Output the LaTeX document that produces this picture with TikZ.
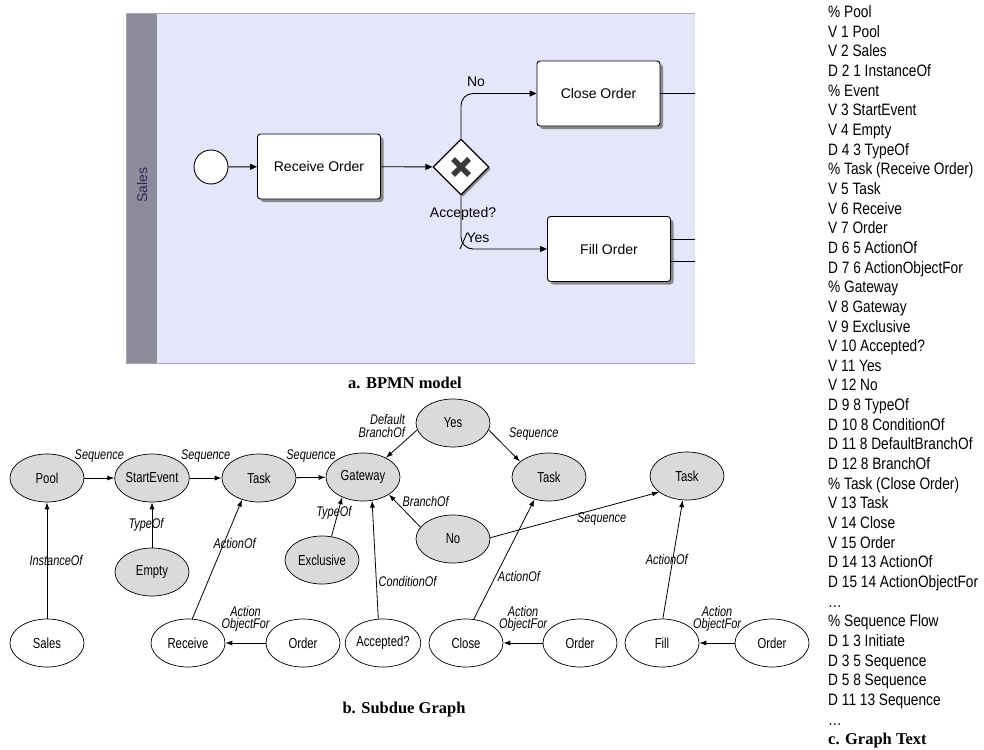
\documentclass[tikz,border=0pt]{standalone}
\usepackage{fontspec}
\setmainfont{Liberation Sans}
\newfontfamily\narrowfont{Liberation Sans}[FakeStretch=0.83]
\newfontfamily\graphfont{Liberation Sans}[FakeStretch=0.78]
\newfontfamily\capfont{Liberation Serif}
\usetikzlibrary{shapes.geometric,arrows.meta,shadows}
\definecolor{poolbg}{HTML}{E6E6FA}
\definecolor{lanegray}{HTML}{8C8C9C}
\definecolor{laneborder}{HTML}{A8A8B0}
\definecolor{lanetext}{HTML}{2E2A50}
\definecolor{nodegray}{HTML}{DADADA}
\definecolor{xmarkgray}{HTML}{3A3A3A}

\begin{document}
\begin{tikzpicture}[x=1pt, y=-1pt,
    flow/.style={-{Triangle[length=7pt,width=6pt]}, line width=0.9pt},
    taskbox/.style={draw, line width=0.9pt, fill=white, rounded corners=3pt,
      minimum width=123pt, minimum height=65pt, inner sep=0pt,
      font=\fontsize{14}{16}\selectfont,
      drop shadow={shadow xshift=3pt, shadow yshift=-3pt, fill=black!55, opacity=0.8}},
    gwbox/.style={diamond, draw, line width=1.3pt, fill=white, inner sep=0pt,
      minimum width=56pt, minimum height=56pt,
      drop shadow={shadow xshift=2pt, shadow yshift=-2pt, fill=black!55, opacity=0.8}},
    btext/.style={font=\fontsize{14}{16}\selectfont, inner sep=0pt},
    typenode/.style={ellipse, draw, line width=0.7pt, fill=nodegray,
      minimum width=74pt, minimum height=48pt, inner sep=0pt,
      font=\graphfont\fontsize{14.5}{16}\selectfont},
    valnode/.style={typenode, fill=white},
    garr/.style={-{Latex[length=7pt,width=5pt]}, line width=0.8pt},
    elab/.style={font=\graphfont\fontsize{14}{12.5}\selectfont\itshape,
      inner sep=0pt, align=center},
    gtext/.style={font=\narrowfont\fontsize{16.5}{19.6}\selectfont, inner sep=0pt},
    capt/.style={font=\capfont\bfseries\fontsize{16.5}{18}\selectfont, inner sep=0pt}]
  \useasboundingbox (0,0) rectangle (984,749);

  % a. BPMN model: pool and lane
  \fill[poolbg] (126,13) rectangle (695,363);
  \fill[lanegray] (126,13) rectangle (157,363);
  \draw[laneborder, line width=0.8pt] (695,13) -- (126,13) -- (126,363) -- (695,363);
  \node[btext, rotate=90, text=lanetext] (lane) at (142,185) {Sales};

  % flow objects
  \node[circle, draw, fill=white, line width=0.9pt, minimum size=34pt, inner sep=0pt] (bStart) at (211,167) {};
  \node[taskbox] (bReceive) at (319,166.5) {Receive Order};
  \node[gwbox] (bGate) at (461,167) {};
  \draw[xmarkgray, line width=5.5pt] (453,159) -- (469,175) (453,175) -- (469,159);
  \node[taskbox] (bClose) at (598.5,93.5) {Close Order};
  \node[taskbox] (bFill) at (609,249) {Fill Order};

  % sequence flows
  \draw[flow] (bStart) -- (bReceive);
  \draw[flow] (bReceive) -- (bGate);
  \draw[flow, rounded corners=12pt] (bGate.north) |- (bClose.west);
  \draw[flow, rounded corners=12pt] (bGate.south) |- (bFill.west);
  \draw[line width=0.9pt] (460,249) -- (467,233);
  \node[btext] (lNo) at (476,82) {No};
  \node[btext] (lAccepted) at (463,214) {Accepted?};
  \node[btext] (lYes) at (478,238) {Yes};

  % flows leaving the cropped view
  \coordinate (cOut) at (695,93.5);
  \coordinate (fOutA) at (695,239);
  \coordinate (fOutB) at (695,261);
  \draw[line width=0.9pt] (bClose.east) -- (cOut);
  \draw[line width=0.9pt] (bFill.east |- fOutA) -- (fOutA);
  \draw[line width=0.9pt] (bFill.east |- fOutB) -- (fOutB);

  \node[capt] (capA) at (405,383) {a. BPMN model};

  % b. Subdue graph: type vertices
  \node[typenode] (nPool) at (47,478) {Pool};
  \node[typenode] (nStart) at (152,478) {StartEvent};
  \node[typenode] (nTaskA) at (259,478) {Task};
  \node[typenode] (nGate) at (363,477) {Gateway};
  \node[typenode] (nYes) at (453,423) {Yes};
  \node[typenode] (nTaskB) at (549,477) {Task};
  \node[typenode] (nTaskC) at (687,476) {Task};
  \node[typenode] (nNo) at (453,539) {No};
  \node[typenode] (nExcl) at (322,560) {Exclusive};
  \node[typenode] (nEmpty) at (152,572) {Empty};

  % value vertices
  \node[valnode] (nSales) at (47,643) {Sales};
  \node[valnode] (nReceive) at (188,643) {Receive};
  \node[valnode] (nOrderA) at (303,643) {Order};
  \node[valnode] (nAccepted) at (383,643) {Accepted?};
  \node[valnode] (nClose) at (466,643) {Close};
  \node[valnode] (nOrderB) at (580,643) {Order};
  \node[valnode] (nFill) at (662,643) {Fill};
  \node[valnode] (nOrderC) at (772,643) {Order};

  % edges
  \draw[garr] (nPool) -- node[elab, above=15pt] {Sequence} (nStart);
  \draw[garr] (nStart) -- node[elab, above=15pt] {Sequence} (nTaskA);
  \draw[garr] (nTaskA) -- node[elab, above=15pt] {Sequence} (nGate);
  \draw[garr] (nSales) -- node[elab, xshift=9pt] {InstanceOf} (nPool);
  \draw[garr] (nEmpty) -- node[elab, xshift=-6pt] {TypeOf} (nStart);
  \draw[garr] (nReceive.80) -- node[elab, pos=0.63, xshift=11pt] {ActionOf} (nTaskA.232);
  \draw[garr] (nOrderA) -- node[elab, above=11pt] {Action\\ObjectFor} (nReceive);
  \draw[garr] (nExcl.68) -- node[elab, pos=0.6, xshift=-4pt] {TypeOf} (nGate.224);
  \draw[garr] (nAccepted.101) -- node[elab, pos=0.32, anchor=west, xshift=2pt] {ConditionOf} (nGate.291);
  \draw[garr] (nYes.191) -- node[elab, pos=0, anchor=east, align=right, xshift=-12pt, yshift=4pt] {Default\\BranchOf} (nGate.40);
  \draw[garr] (nYes.349) -- node[elab, pos=0, anchor=west, xshift=20pt, yshift=-4pt] {Sequence} (nTaskB.152);
  \draw[garr] (nNo.160) -- node[elab, pos=0.8, anchor=west, xshift=7pt] {BranchOf} (nGate.326);
  \draw[garr] (nNo.2) -- node[elab, pos=0.66, below=5pt] {Sequence} (nTaskC.210);
  \draw[garr] (nClose.72) -- node[elab, pos=0.36, anchor=west, xshift=2pt] {ActionOf} (nTaskB.237);
  \draw[garr] (nOrderB) -- node[elab, above=11pt] {Action\\ObjectFor} (nClose);
  \draw[garr] (nFill.88) -- node[elab, xshift=-6pt] {ActionOf} (nTaskC.260);
  \draw[garr] (nOrderC) -- node[elab, above=11pt] {Action\\ObjectFor} (nFill);

  \node[capt] (capB) at (404,710) {b. Subdue Graph};

  % c. graph text
  \foreach \ln [count=\i from 0] in {\% Pool, V 1 Pool, V 2 Sales, D 2 1 InstanceOf,
      \% Event, V 3 StartEvent, V 4 Empty, D 4 3 TypeOf,
      \% Task (Receive Order), V 5 Task, V 6 Receive, V 7 Order, D 6 5 ActionOf, D 7 6 ActionObjectFor,
      \% Gateway, V 8 Gateway, V 9 Exclusive, V 10 Accepted?, V 11 Yes, V 12 No,
      D 9 8 TypeOf, D 10 8 ConditionOf, D 11 8 DefaultBranchOf, D 12 8 BranchOf,
      \% Task (Close Order), V 13 Task, V 14 Close, V 15 Order, D 14 13 ActionOf, D 15 14 ActionObjectFor,
      …, \% Sequence Flow, D 1 3 Initiate, D 3 5 Sequence, D 5 8 Sequence, D 11 13 Sequence, …}
    \node[gtext, anchor=base west] (gt\i) at (828,17.6+19.65*\i) {\ln};
  \node[capt, anchor=west] (capC) at (828,741) {c. Graph Text};
\end{tikzpicture}
\end{document}
